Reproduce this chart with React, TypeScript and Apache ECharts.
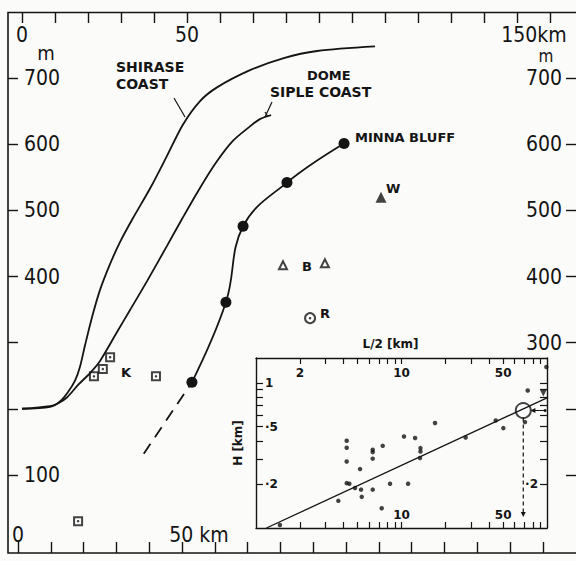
import React, { useEffect, useRef } from "react";
import * as echarts from "echarts";

// ---- main figure data (distance km, elevation m) ----
const shiraseKm = [0, 8.5, 11.5, 13.9, 16.1, 17.6, 19.1, 21.2, 23.6, 26.7, 29.7, 33.6, 38.8, 43.9, 48.8, 53.9, 59.1, 69.1, 79.1, 89.4, 107];
const shiraseM = [200, 203, 211, 225, 243, 264, 296, 338, 379, 419, 452, 488, 533, 582, 630, 665, 686, 712, 730, 741, 748];
const domeKm = [0, 8.5, 10.9, 13.6, 17.0, 20.6, 23.6, 28.8, 32.7, 37.9, 43.9, 48.5, 53.0, 58.5, 63.9, 69.1, 72.1, 75.5];
const domeM = [200, 204, 208, 217, 236, 254, 272, 316, 349, 393, 446, 487, 526, 570, 605, 627, 638, 644];
const minnaKm = [51.5, 61.8, 67, 80.3, 97.6];
const minnaM = [240, 361, 476, 542, 601];
const minnaDashKm = [36.9, 51.5];
const minnaDashM = [132, 240];
const wKm = [108.8];
const wM = [520];
const bKm = [79.1, 91.8];
const bM = [417, 420];
const rKm = [87.3];
const rM = [337];
const kKm = [21.8, 24.5, 26.7, 40.6, 17];
const kM = [249, 260, 278, 249, 30];

// ---- axis ticks/labels ----
const kmTicks = [0, 10, 20, 30, 40, 50, 60, 70, 80, 90, 100, 110, 120, 130, 140, 150, 160];
const topKmLabels = [0, 50, 150];
const bottomKmLabels = [0, 50];
const mTicks = [100, 200, 300, 400, 500, 600, 700];
const leftMLabels = [100, 400, 500, 600, 700];
const rightMLabels = [300, 400, 500, 600, 700];

// ---- inset (log-log) data: L/2 [km], H [km] ----
const insetL = [4.2, 4.2, 4.2, 4.2, 4.38, 4.79, 5.19, 5.27, 5.33, 6.34, 6.34, 6.34, 6.34, 7.43, 7.31, 8.34, 10.4, 11.1, 3.68, 1.46, 12.4, 13.5, 13.5, 13.4, 17.0, 27.6, 44.4, 50.1, 73.7, 70.6, 99];
const insetH = [0.4, 0.358, 0.288, 0.204, 0.202, 0.189, 0.255, 0.184, 0.164, 0.347, 0.334, 0.301, 0.184, 0.369, 0.137, 0.202, 0.428, 0.202, 0.154, 0.105, 0.418, 0.356, 0.337, 0.304, 0.53, 0.421, 0.552, 0.489, 0.889, 0.538, 1.29];
const fitL = [1.18, 100];
const fitH = [0.1, 0.79];
const circleL = [68.7];
const circleH = [0.647];
const dropL = [68.7, 68.7];
const dropH = [0.578, 0.124];
const triL = [94.3];
const triH = [0.853];
const arrowL = [97, 80];
const arrowH = [0.647, 0.647];
const insetLTicks = [2, 3, 4, 5, 6, 7, 8, 9, 10, 20, 30, 40, 50, 60, 70, 80, 90];
const insetTopLabels = [2, 10, 50];
const insetBottomLabels = [10, 50];
const insetHTicks = [0.2, 0.3, 0.4, 0.5, 0.6, 0.7, 0.8, 0.9, 1.0];
const insetLeftLabels = [1, 0.5, 0.2];
const insetRightLabels = [0.2];

const INK = "#141414";
const BG = "#fbfbf9";
const NUM_FONT = "'Liberation Sans Narrow','DejaVu Sans Condensed','Roboto Condensed',Roboto,sans-serif";
const BOLD_FONT = "'DejaVu Sans',sans-serif";

const lg = (v: number) => Math.log10(v);
const pairs = (xs: number[], ys: number[]) => xs.map((x, i) => [x, ys[i]]);
const logPairs = (xs: number[], ys: number[]) => xs.map((x, i) => [lg(x), lg(ys[i])]);

const logLabel = (v: number) => {
  const r = Math.pow(10, v);
  if (r >= 0.99) return String(Math.round(r));
  return "·" + Math.round(r * 10);
};

export default function App() {
  const ref = useRef<HTMLDivElement>(null);
  useEffect(() => {
    if (!ref.current) return;
    const chart = echarts.init(ref.current, undefined, { renderer: "svg" });
    const numLabel = { color: INK, fontFamily: NUM_FONT, fontSize: 21 };
    const insetLabel = { color: INK, fontFamily: BOLD_FONT, fontWeight: "bold" as const, fontSize: 12 };
    const tickStyle = { color: INK, width: 1.4 };
    const curve = { type: "line", xAxisIndex: 0, yAxisIndex: 0, smooth: 0.3, showSymbol: false, lineStyle: { color: INK, width: 1.8 } };
    const option: any = {
      animation: false,
      backgroundColor: BG,
      grid: [
        { left: 22, top: 12, width: 554, height: 529 },
        { left: 256, top: 358, width: 291, height: 170, show: true, backgroundColor: BG, borderWidth: 0 },
        { left: 18, top: 12, width: 558, height: 529 },
      ],
      xAxis: [
        {
          gridIndex: 0, type: "value", position: "top", min: 0, max: 167.9,
          axisLine: { show: false, onZero: false },
          axisTick: { inside: true, length: 11, customValues: kmTicks, lineStyle: tickStyle },
          axisLabel: {
            inside: true, margin: 12, customValues: topKmLabels, ...numLabel,
            formatter: (v: number) => (Math.round(v) === 150 ? "{k|150km}" : String(Math.round(v))),
            rich: { k: { ...numLabel, padding: [0, 0, 0, 34] } },
          },
          splitLine: { show: false },
        },
        {
          gridIndex: 2, type: "value", position: "bottom", offset: 12, min: 0, max: 170.1,
          axisLine: { show: false, onZero: false },
          axisTick: { inside: true, length: 11, customValues: kmTicks, lineStyle: tickStyle },
          axisLabel: {
            inside: true, margin: 8, customValues: bottomKmLabels, ...numLabel,
            formatter: (v: number) => (Math.round(v) === 50 ? "{k|50 km}" : String(Math.round(v))),
            rich: { k: { ...numLabel, padding: [0, 0, 0, 34] } },
          },
          splitLine: { show: false },
        },
        {
          gridIndex: 1, type: "value", position: "top", min: 0, max: 2,
          name: "L/2 [km]", nameLocation: "middle", nameGap: 8,
          nameTextStyle: { ...insetLabel, fontSize: 12, padding: [0, 22, 0, 0] },
          axisLine: { show: true, onZero: false, lineStyle: { color: INK, width: 1.4 } },
          axisTick: { inside: true, length: 6, customValues: insetLTicks.map(lg), lineStyle: { color: INK, width: 1.2 } },
          axisLabel: { inside: true, margin: 9, customValues: insetTopLabels.map(lg), formatter: logLabel, ...insetLabel },
          splitLine: { show: false },
        },
        {
          gridIndex: 1, type: "value", position: "bottom", min: 0, max: 2,
          axisLine: { show: true, onZero: false, lineStyle: { color: INK, width: 1.4 } },
          axisTick: { inside: true, length: 6, customValues: insetLTicks.map(lg), lineStyle: { color: INK, width: 1.2 } },
          axisLabel: { inside: true, margin: 7, customValues: insetBottomLabels.map(lg), formatter: logLabel, ...insetLabel },
          splitLine: { show: false },
        },
      ],
      yAxis: [
        {
          gridIndex: 0, type: "value", position: "left", offset: 14, min: 0, max: 800,
          axisLine: { show: false, onZero: false },
          axisTick: { inside: true, length: 10, customValues: mTicks, lineStyle: tickStyle },
          axisLabel: { inside: true, margin: 16, customValues: leftMLabels, ...numLabel },
          splitLine: { show: false },
        },
        {
          gridIndex: 0, type: "value", position: "right", min: 0, max: 800,
          axisLine: { show: false, onZero: false },
          axisTick: { inside: true, length: 10, customValues: mTicks, lineStyle: tickStyle },
          axisLabel: { inside: true, margin: 14, customValues: rightMLabels, ...numLabel },
          splitLine: { show: false },
        },
        {
          gridIndex: 1, type: "value", position: "left", min: -1, max: lg(1.49),
          name: "H [km]", nameLocation: "middle", nameGap: 12, nameRotate: 90,
          nameTextStyle: { ...insetLabel, fontSize: 12 },
          axisLine: { show: true, onZero: false, lineStyle: { color: INK, width: 1.4 } },
          axisTick: { inside: true, length: 7, customValues: insetHTicks.map(lg), lineStyle: { color: INK, width: 1.2 } },
          axisLabel: { inside: true, margin: 9, customValues: insetLeftLabels.map(lg), formatter: logLabel, ...insetLabel },
          splitLine: { show: false },
        },
        {
          gridIndex: 1, type: "value", position: "right", min: -1, max: lg(1.49),
          axisLine: { show: true, onZero: false, lineStyle: { color: INK, width: 1.4 } },
          axisTick: { inside: true, length: 7, customValues: insetHTicks.map(lg), lineStyle: { color: INK, width: 1.2 } },
          axisLabel: { inside: true, margin: 9, customValues: insetRightLabels.map(lg), formatter: logLabel, ...insetLabel },
          splitLine: { show: false },
        },
        { gridIndex: 2, type: "value", show: false, min: 0, max: 800 },
      ],
      series: [
        { ...curve, name: "Shirase Coast", data: pairs(shiraseKm, shiraseM) },
        { ...curve, name: "Dome Siple Coast", data: pairs(domeKm, domeM) },
        {
          name: "Minna Bluff", type: "line", xAxisIndex: 0, yAxisIndex: 0, smooth: 0.4,
          data: pairs(minnaKm, minnaM), symbol: "circle", symbolSize: 11,
          itemStyle: { color: INK }, lineStyle: { color: INK, width: 1.8 },
        },
        {
          name: "Minna Bluff (extrapolated)", type: "line", xAxisIndex: 0, yAxisIndex: 0,
          data: pairs(minnaDashKm, minnaDashM), showSymbol: false,
          lineStyle: { color: INK, width: 1.8, type: [12, 8] },
        },
        {
          name: "W", type: "scatter", xAxisIndex: 0, yAxisIndex: 0, data: pairs(wKm, wM),
          symbol: "triangle", symbolSize: 11, itemStyle: { color: INK },
        },
        {
          name: "B", type: "scatter", xAxisIndex: 0, yAxisIndex: 0, data: pairs(bKm, bM),
          symbol: "emptyTriangle", symbolSize: 8, itemStyle: { color: INK, borderColor: "#333", borderWidth: 1.2 },
        },
        {
          name: "R", type: "scatter", xAxisIndex: 0, yAxisIndex: 0, data: pairs(rKm, rM),
          symbol: "emptyCircle", symbolSize: 10, itemStyle: { color: INK, borderColor: "#333", borderWidth: 1.2 },
        },
        {
          name: "K", type: "scatter", xAxisIndex: 0, yAxisIndex: 0, data: pairs(kKm, kM),
          symbol: "emptyRect", symbolSize: 8, itemStyle: { color: INK, borderColor: "#444", borderWidth: 1.2 },
        },
        {
          name: "centres", type: "scatter", xAxisIndex: 0, yAxisIndex: 0,
          data: [...pairs(rKm, rM), ...pairs(kKm, kM)], symbol: "circle", symbolSize: 2.5, itemStyle: { color: INK },
        },
        // inset
        {
          name: "H vs L/2", type: "scatter", xAxisIndex: 2, yAxisIndex: 2,
          data: logPairs(insetL, insetH), symbol: "circle", symbolSize: 4.5, itemStyle: { color: INK },
        },
        {
          name: "fit", type: "line", xAxisIndex: 2, yAxisIndex: 2, data: logPairs(fitL, fitH),
          showSymbol: false, lineStyle: { color: INK, width: 1.3 },
        },
        {
          name: "marked", type: "scatter", xAxisIndex: 2, yAxisIndex: 2, data: logPairs(circleL, circleH),
          symbol: "emptyCircle", symbolSize: 15, itemStyle: { color: INK, borderColor: INK, borderWidth: 1.3 },
        },
        {
          name: "drop", type: "line", xAxisIndex: 2, yAxisIndex: 2,
          data: logPairs(dropL, dropH).map((p, i) => (i === 1 ? { value: p, symbol: "triangle", symbolRotate: 180, symbolSize: 5 } : { value: p, symbol: "none" })),
          showSymbol: true, itemStyle: { color: INK }, lineStyle: { color: INK, width: 1.2, type: [4, 3] },
        },
        {
          name: "arrow", type: "line", xAxisIndex: 2, yAxisIndex: 2,
          data: logPairs(arrowL, arrowH).map((p, i) => (i === 1 ? { value: p, symbol: "triangle", symbolRotate: 90, symbolSize: 5 } : { value: p, symbol: "circle", symbolSize: 3 })),
          showSymbol: true, itemStyle: { color: INK }, lineStyle: { color: INK, width: 1.2 },
        },
        {
          name: "tri", type: "scatter", xAxisIndex: 2, yAxisIndex: 2, data: logPairs(triL, triH),
          symbol: "triangle", symbolRotate: 180, symbolSize: 7, itemStyle: { color: INK },
        },
      ],
      graphic: [
        {
          type: "polyline", z: 10, silent: true,
          shape: { points: [[578, 12.5], [8, 12.5], [8, 553], [578, 553]] },
          style: { stroke: INK, lineWidth: 1.6, fill: null },
        },
        { type: "text", x: 46, y: 53, style: { text: "m", font: `20px ${NUM_FONT}`, fill: INK, align: "center", verticalAlign: "middle" } },
        { type: "text", x: 546, y: 56, style: { text: "m", font: `17px ${NUM_FONT}`, fill: INK, align: "center", verticalAlign: "middle" } },
        { type: "text", x: 116, y: 67, style: { text: "SHIRASE", font: `bold 14px ${BOLD_FONT}`, fill: INK, verticalAlign: "middle" } },
        { type: "text", x: 116, y: 84, style: { text: "COAST", font: `bold 14px ${BOLD_FONT}`, fill: INK, verticalAlign: "middle" } },
        { type: "text", x: 307, y: 75, style: { text: "DOME", font: `bold 13px ${BOLD_FONT}`, fill: INK, verticalAlign: "middle" } },
        { type: "text", x: 270, y: 92, style: { text: "SIPLE COAST", font: `bold 14px ${BOLD_FONT}`, fill: INK, verticalAlign: "middle" } },
        { type: "text", x: 355, y: 137, style: { text: "MINNA BLUFF", font: `bold 13px ${BOLD_FONT}`, fill: INK, verticalAlign: "middle" } },
        { type: "text", x: 386, y: 188, style: { text: "W", font: `bold 13px ${BOLD_FONT}`, fill: INK, verticalAlign: "middle" } },
        { type: "text", x: 302, y: 266, style: { text: "B", font: `bold 13px ${BOLD_FONT}`, fill: INK, verticalAlign: "middle" } },
        { type: "text", x: 320, y: 313, style: { text: "R", font: `bold 13px ${BOLD_FONT}`, fill: INK, verticalAlign: "middle" } },
        { type: "text", x: 121, y: 372, style: { text: "K", font: `bold 13px ${BOLD_FONT}`, fill: INK, verticalAlign: "middle" } },
        { type: "line", shape: { x1: 174, y1: 98, x2: 185, y2: 117 }, style: { stroke: INK, lineWidth: 1.2 } },
        { type: "line", shape: { x1: 272, y1: 102, x2: 265, y2: 117 }, style: { stroke: INK, lineWidth: 1.2 } },
        { type: "line", shape: { x1: 265, y1: 112, x2: 268, y2: 117 }, style: { stroke: INK, lineWidth: 1.2 } },
      ],
    };
    chart.setOption(option);
    return () => chart.dispose();
  }, []);
  return <div ref={ref} style={{ position: "fixed", left: 0, top: 0, width: 576, height: 561, background: BG }} />;
}
